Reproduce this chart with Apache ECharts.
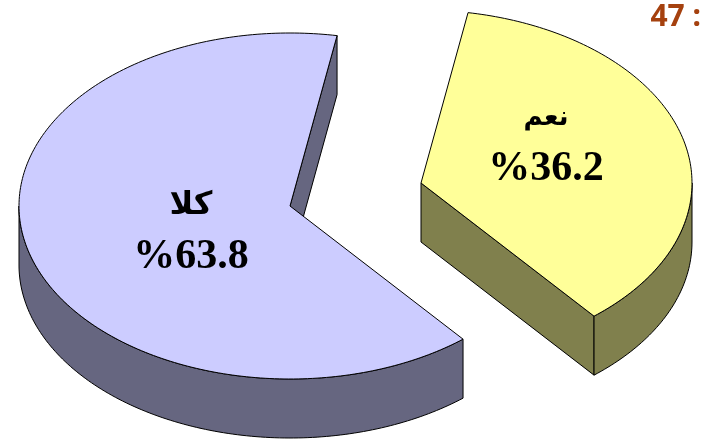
<!DOCTYPE html>
<html>
<head>
<meta charset="utf-8">
<style>
    html, body { margin: 0; padding: 0; background: #fff; }
    #chart { width: 713px; height: 439px; }
</style>
<script src="https://cdn.jsdelivr.net/npm/echarts@6/dist/echarts.min.js"></script>
</head>
<body>
<div id="chart"></div>
<script>
// 数据
const categories = ['نعم', 'كلا'];
const values = [36.2, 63.8];
const valueLabels = ['%36.2', '%63.8'];
const cornerLabel = '47 :';

// 样式
const topColors = ['#FFFF99', '#CCCCFF'];
const sideColors = ['#80804D', '#666680'];
const categoryFontSizes = [26, 32];
const centers = [[421, 183], [290, 206]];
const labelCenters = [[546, 118], [191, 206]];
const radiusX = 271;
const radiusY = 173;
const depth = 59;
const startAngle = 10;

const total = values.reduce((sum, v) => sum + v, 0);

// 角度从正上方顺时针计算
function ellipsePoint(center, angle, drop) {
    const rad = angle * Math.PI / 180;
    return [
        center[0] + radiusX * Math.sin(rad),
        center[1] - radiusY * Math.cos(rad) + (drop || 0)
    ];
}

function arcPoints(center, from, to, drop) {
    const points = [];
    const steps = Math.max(2, Math.ceil(Math.abs(to - from)));
    for (let i = 0; i <= steps; i++) {
        points.push(ellipsePoint(center, from + (to - from) * i / steps, drop));
    }
    return points;
}

function faceStyle(color) {
    return { fill: color, stroke: '#000', lineWidth: 1, lineJoin: 'round' };
}

function polygon(points, color) {
    return { type: 'polygon', shape: { points: points }, style: faceStyle(color) };
}

function renderSlice(params, api) {
    const index = params.dataIndex;
    let before = 0;
    for (let i = 0; i < index; i++) {
        before += values[i];
    }
    const from = startAngle + before / total * 360;
    const to = from + api.value(0) / total * 360;
    const center = centers[index];
    const side = sideColors[index];
    const children = [];

    // 切面: 只画朝向观察者的一面
    [[from, -1], [to, 1]].forEach(([angle, dir]) => {
        if (dir * Math.sin(angle * Math.PI / 180) > 0) {
            const edge = ellipsePoint(center, angle);
            children.push(polygon([
                center,
                edge,
                [edge[0], edge[1] + depth],
                [center[0], center[1] + depth]
            ], side));
        }
    });

    // 外侧弧面: 椭圆下半部分 (90 ~ 270, 450 ~ 630)
    [[90, 270], [450, 630]].forEach(([low, high]) => {
        const a = Math.max(from, low);
        const b = Math.min(to, high);
        if (a < b) {
            children.push(polygon(
                arcPoints(center, a, b, 0).concat(arcPoints(center, b, a, depth)),
                side
            ));
        }
    });

    // 顶面
    children.push(polygon([center].concat(arcPoints(center, from, to, 0)), topColors[index]));

    // 文字
    const labelAt = labelCenters[index];
    children.push({
        type: 'text',
        style: {
            text: categories[index],
            x: labelAt[0],
            y: labelAt[1],
            align: 'center',
            verticalAlign: 'middle',
            fill: '#000',
            font: 'bold ' + categoryFontSizes[index] + 'px "Liberation Serif", "DejaVu Sans", serif'
        }
    });
    children.push({
        type: 'text',
        style: {
            text: valueLabels[index],
            x: labelAt[0],
            y: labelAt[1] + 51,
            align: 'center',
            verticalAlign: 'middle',
            fill: '#000',
            font: 'bold 42px "Liberation Serif", serif'
        }
    });

    return { type: 'group', children: children };
}

const myChart = echarts.init(document.getElementById('chart'), null, { renderer: 'canvas' });
myChart.setOption({
    animation: false,
    backgroundColor: '#fff',
    title: {
        text: cornerLabel,
        right: 7,
        top: -3,
        textStyle: {
            color: '#A5410F',
            fontFamily: '"Noto Sans"',
            fontWeight: 'bold',
            fontSize: 30
        }
    },
    series: [{
        type: 'custom',
        coordinateSystem: 'none',
        silent: true,
        renderItem: renderSlice,
        data: values.map(v => [v])
    }]
});
</script>
</body>
</html>
